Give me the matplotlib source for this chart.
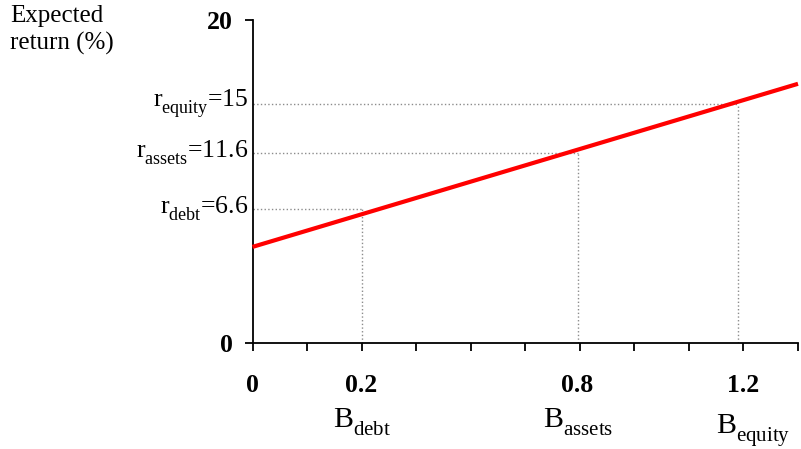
import matplotlib
matplotlib.use('Agg')
import matplotlib.pyplot as plt
from matplotlib.ticker import FixedLocator

plt.rcParams['font.family'] = ['Liberation Serif', 'DejaVu Serif']
plt.rcParams['mathtext.default'] = 'regular'

# push subscripts a bit lower, like the original
try:
    from matplotlib import _mathtext
    _mathtext.FontConstantsBase.sub1 = 0.6
except Exception:
    pass

# schematic diagram: positions along the axes are not to scale
line_x = [0, 10]
line_y = [5.95, 16.05]

beta_pos = [2.0, 5.96, 8.9]
beta_vals = ['0.2', '0.8', '1.2']
beta_names = ['debt', 'assets', 'equity']
r_pos = [8.3, 11.75, 14.8]
r_vals = ['6.6', '11.6', '15']

fig = plt.figure(figsize=(8.01, 4.49), dpi=100)
ax = fig.add_axes([252.5 / 801, 106 / 449, 545.5 / 801, 323 / 449])
ax.set_xlim(0, 10)
ax.set_ylim(0, 20)

# guide lines
for bx, ry in zip(beta_pos, r_pos):
    ax.plot([0, bx], [ry, ry], ls=':', color='#8c8c8c', lw=1.0)
    ax.plot([bx, bx], [0, ry], ls=':', color='#8c8c8c', lw=1.0)

ax.plot(line_x, line_y, color='#ff0000', lw=3, solid_capstyle='butt', clip_on=False, zorder=5)

for s in ['top', 'right']:
    ax.spines[s].set_visible(False)
for s in ['left', 'bottom']:
    ax.spines[s].set_linewidth(1.3)

ax.set_yticks([0, 20])
ax.set_yticklabels(['0', '20'], fontsize=18.5, fontweight='bold')
ax.tick_params(axis='y', direction='out', length=6, width=1.3, pad=8)

ax.set_xticks([])
ax.xaxis.set_minor_locator(FixedLocator(range(11)))
ax.tick_params(axis='x', which='minor', direction='out', length=6, width=1.3)

xl_pos = [0] + beta_pos
xl_txt = ['0'] + beta_vals
xl_shift = [0, 0, 0, 0.1]
for p, t, d in zip(xl_pos, xl_txt, xl_shift):
    ax.annotate(t, xy=(p + d, 0), xycoords=('data', 'axes fraction'),
                xytext=(0, -22), textcoords='offset points',
                ha='center', va='top', fontsize=18.5, fontweight='bold', annotation_clip=False)

b_shift = [0, 0, 0.28]
b_drop = [-46, -46, -50]
for p, n, d, dy in zip(beta_pos, beta_names, b_shift, b_drop):
    ax.annotate('B$_{' + n + '}$', xy=(p + d, 0), xycoords=('data', 'axes fraction'),
                xytext=(0, dy), textcoords='offset points',
                ha='center', va='top', fontsize=21.5, annotation_clip=False)

for ry, n, v in zip(r_pos, beta_names, r_vals):
    ax.annotate('r$_{' + n + '}$=' + v, xy=(0, ry), xycoords=('axes fraction', 'data'),
                xytext=(-3, 0), textcoords='offset points',
                ha='right', va='center', fontsize=18.5, annotation_clip=False)

fig.text(10 / 801, 1 - 5 / 449, 'Expected\nreturn (%)', ha='left', va='top',
         fontsize=18, linespacing=1.3)

fig.savefig('out.png', dpi=100)
